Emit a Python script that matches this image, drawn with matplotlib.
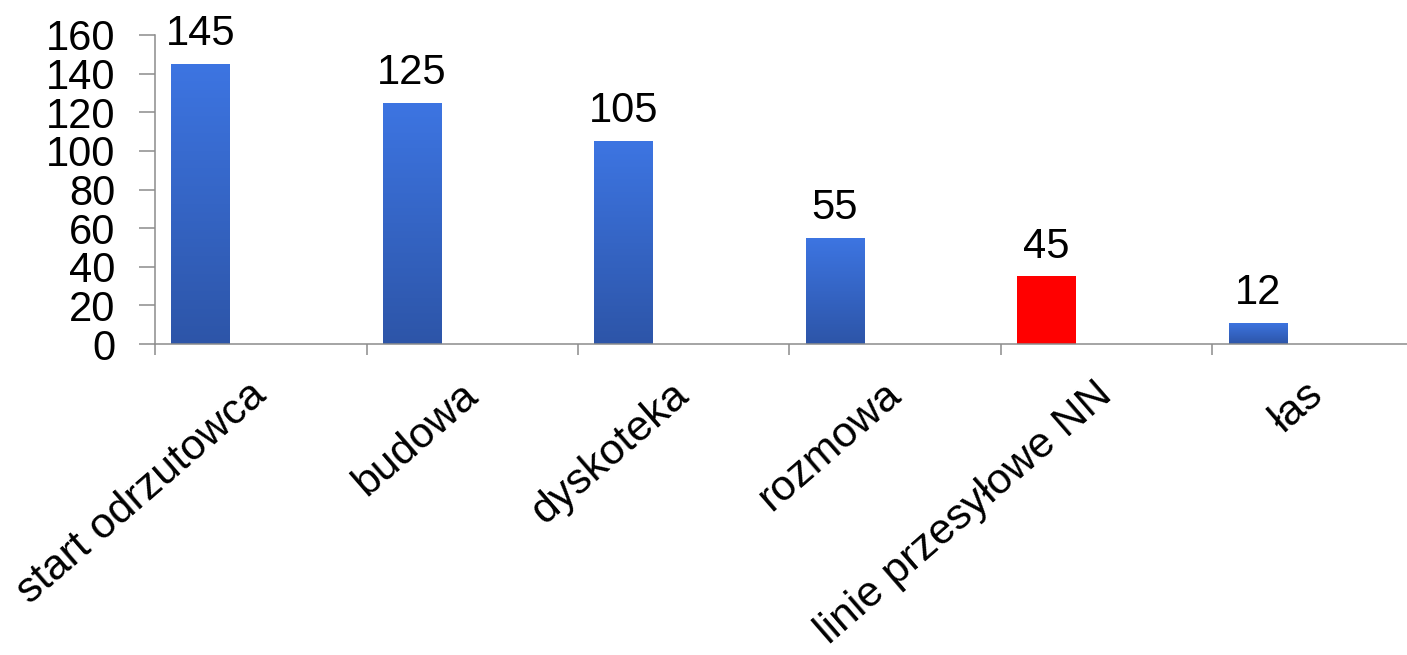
import numpy as np
import matplotlib
matplotlib.use("Agg")
import matplotlib.pyplot as plt
from matplotlib.colors import LinearSegmentedColormap

categories = ["start odrzutowca", "budowa", "dyskoteka", "rozmowa",
              "linie przesyłowe NN", "łas"]
bar_values = [145, 125, 105, 55, 35, 11]
label_values = ["145", "125", "105", "55", "45", "12"]
highlight = [False, False, False, False, True, False]
y_ticks = [0, 20, 40, 60, 80, 100, 120, 140, 160]

plt.rcParams['font.family'] = ['Liberation Sans', 'DejaVu Sans']

W, H = 1407, 655
fig = plt.figure(figsize=(W / 100, H / 100), dpi=100)
ax = fig.add_axes([155 / W, 311 / H, 1269 / W, 309 / H])

x = np.arange(len(categories))
offset = -0.285
width = 0.277
grad = LinearSegmentedColormap.from_list("g", ["#2d55a8", "#3d75e2"])
gimg = np.linspace(0, 1, 256).reshape(-1, 1)

bars = ax.bar(x + offset, bar_values, width=width, color="#3a6bd0", zorder=2)
for b, hl in zip(bars, highlight):
    if hl:
        b.set_facecolor("#ff0000")
    else:
        b.set_facecolor("none")
        x0, y0 = b.get_x(), b.get_y()
        im = ax.imshow(gimg, cmap=grad, origin="lower", aspect="auto",
                       extent=[x0, x0 + b.get_width(), y0, y0 + b.get_height()],
                       zorder=2)
        im.set_clip_path(b)

for xi, v, lab in zip(x + offset, bar_values, label_values):
    ax.annotate(lab, (xi, v), xytext=(0, 7), textcoords="offset points",
                ha="center", va="bottom", fontsize=30, color="black")

ax.set_xlim(-0.5, len(categories) - 0.5)
ax.set_ylim(0, 160)
ax.set_yticks(y_ticks)
ax.set_yticklabels([str(t) for t in y_ticks], fontsize=30)
ax.set_xticks(x)
ax.set_xticklabels([])
ax.set_xticks(np.arange(-0.5, len(categories)), minor=True)

# category labels, placed at category centres below the axis
for xi, cat in zip(x, categories):
    ax.annotate(cat, (xi, 0), xytext=(9.4, -22), textcoords="offset points",
                rotation=41, ha="right", va="top", fontsize=31,
                annotation_clip=False)

gray = "#8c8c8c"
for s in ["top", "right"]:
    ax.spines[s].set_visible(False)
for s in ["left", "bottom"]:
    ax.spines[s].set_color(gray)
    ax.spines[s].set_linewidth(1.1)
ax.tick_params(axis="y", direction="out", length=11.5, width=1.1, color=gray, pad=17)
ax.tick_params(axis="x", which="major", length=0)
ax.tick_params(axis="x", which="minor", direction="out", length=8, width=1.1, color=gray)

fig.savefig("out.png", dpi=100)
